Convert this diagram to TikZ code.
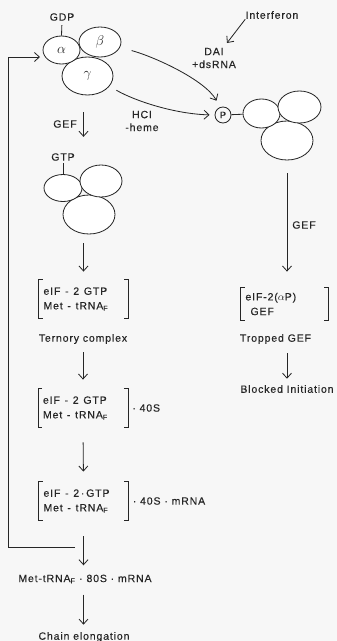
\documentclass[tikz,border=0pt]{standalone}
\usepackage{fontspec}
\setmainfont{Liberation Sans}[LetterSpace=8,FakeBold=0.25]
\usepackage{tikz}
\usetikzlibrary{arrows.meta,shapes.geometric}
% square brackets round a complex
\newcommand{\brk}[1]{%
  \draw (#1.north west) ++(4,0) -- (#1.north west) -- (#1.south west) -- ++(4,0);
  \draw (#1.north east) ++(-4,0) -- (#1.north east) -- (#1.south east) -- ++(-4,0);}

\begin{document}
\begin{tikzpicture}[x=0.3mm,y=-0.3mm,line width=0.7pt,color=black!85,
  >={Straight Barb[length=1.5mm,width=2.7mm]},
  font=\fontsize{9}{11}\selectfont,
  lbl/.style={inner sep=0pt},
  subunit/.style={ellipse,draw,fill=white,inner sep=0pt},
  greek/.style={font=\fontsize{12}{14}\selectfont},
  cplx/.style={align=left,inner xsep=1.35mm,inner ysep=0pt,text width=24mm,
    minimum height=11.4mm,font=\fontsize{9}{12.5}\selectfont,
    execute at begin node={\spaceskip=4pt\relax}}]
  % page
  \fill[black!3] (0,0) rectangle (337,641);
  \useasboundingbox (0,0) rectangle (337,641);

  % eIF-2 with GDP
  \node[subunit,greek,minimum width=15.3mm,minimum height=11.4mm] (gam) at (87.5,76) {$\gamma$};
  \node[subunit,greek,minimum width=11.1mm,minimum height=8.4mm] (alp) at (61.5,50) {$\alpha$};
  \node[subunit,greek,minimum width=12.6mm,minimum height=9mm] (bet) at (100,42) {$\beta$};
  \node[lbl] (gdp) at (62,17) {GDP};
  \draw[shorten <=1.2mm] (gdp.south) -- (alp.north);

  % eIF-2 with GTP
  \node[subunit,minimum width=15.6mm,minimum height=11.7mm] (gam2) at (89,214.5) {};
  \node[subunit,minimum width=11.4mm,minimum height=8.1mm] (alp2) at (63,188) {};
  \node[subunit,minimum width=12.6mm,minimum height=9.6mm] (bet2) at (101,181) {};
  \node[lbl] (gtp) at (63,157) {GTP};
  \draw[shorten <=0.6mm] (gtp.south) -- (alp2.north);

  % initiation chain
  \node[cplx] (br1) at (83.5,299) {eIF - 2 GTP\\Met - tRNA\textsubscript{F}};
  \node[lbl] (tern) at (83,339) {Ternory complex};
  \node[cplx] (br2) at (83,408) {eIF - 2 GTP\\Met - tRNA\textsubscript{F}};
  \node[lbl,anchor=west,xshift=1.2mm] (s40) at (br2.east) {· 40S};
  \node[cplx] (br3) at (83.5,501) {eIF - 2\,·\,GTP\\Met - tRNA\textsubscript{F}};
  \node[lbl,anchor=west,xshift=1.2mm] (s40m) at (br3.east) {· 40S · mRNA};
  \node[lbl] (met80) at (85,579) {Met-tRNA\textsubscript{F} · 80S · mRNA};
  \node[lbl] (chain) at (84,637) {Chain elongation};
  \brk{br1} \brk{br2} \brk{br3}

  \node[lbl] (gef) at (65,124) {GEF};
  \draw[->,shorten <=5.1mm,shorten >=4.8mm] (gam.south -| br1.north) -- (gtp.north -| br1.north);
  \draw[->,shorten <=2.7mm,shorten >=2.4mm] (gam2.south -| br1.north) -- (br1.north);
  \draw[->,shorten <=2.4mm,shorten >=2.7mm] (tern.south -| br2.north) -- (br2.north);
  \draw[->,shorten <=4.5mm,shorten >=3mm] (br2.south) -- (br3.north);
  \draw[->,shorten <=4.8mm,shorten >=2.7mm] (br3.south) -- (br3.south |- met80.north);
  \draw[->,shorten <=3.3mm,shorten >=2.1mm] (br3.south |- met80.south) -- (br3.south |- chain.north);

  % recycling of eIF-2
  \coordinate (loopEnd) at (75,547);
  \coordinate (loopTip) at (40,57);
  \draw[->] (loopEnd) -| (8,57) -- (loopTip);

  % phosphorylated eIF-2
  \node[circle,draw,inner sep=0pt,minimum size=4.8mm,font=\fontsize{8}{9}\selectfont] (P) at (223,115) {P};
  \node[subunit,minimum width=15.6mm,minimum height=11.7mm] (gam3) at (287,140.5) {};
  \node[subunit,minimum width=11.1mm,minimum height=8.7mm] (alp3) at (261.5,113.5) {};
  \node[subunit,minimum width=12.9mm,minimum height=9.6mm] (bet3) at (299.5,107) {};
  \draw (P) -- (alp3);

  % kinases
  \node[lbl] (ifn) at (272,15) {Interferon};
  \coordinate (ifnTip) at (227,43);
  \draw[->] (ifn.south west) -- (ifnTip);
  \node[lbl,align=center] (dai) at (214,58) {DAI\\+dsRNA};
  \node[lbl,align=center] (hci) at (142,121) {HCI\\-heme};
  \draw[->,shorten <=3.6mm,shorten >=2.2mm] (bet.-15) .. controls (155,57) and (205,80) .. (P.110);
  \draw[->,shorten <=2.4mm,shorten >=1.5mm] (gam.-25) .. controls (135,101) and (175,114) .. (P.west);

  % trapped GEF
  \node[cplx,text width=23.4mm,minimum height=9.6mm] (br4) at (284.5,304) {eIF-2($\alpha$P)\\\hspace{1.5mm}GEF};
  \brk{br4}
  \node[lbl] (gef2) at (304,225) {GEF};
  \draw[->,shorten <=3.9mm,shorten >=4.8mm] (gam3.south) -- (gam3.south |- br4.north);
  \node[lbl] (trap) at (275.5,339) {Tropped GEF};
  \node[lbl] (blk) at (287,389) {Blocked Initiation};
  \draw[->,shorten <=2.7mm,shorten >=1.8mm] (blk.north |- trap.south) -- (blk.north);
\end{tikzpicture}
\end{document}
